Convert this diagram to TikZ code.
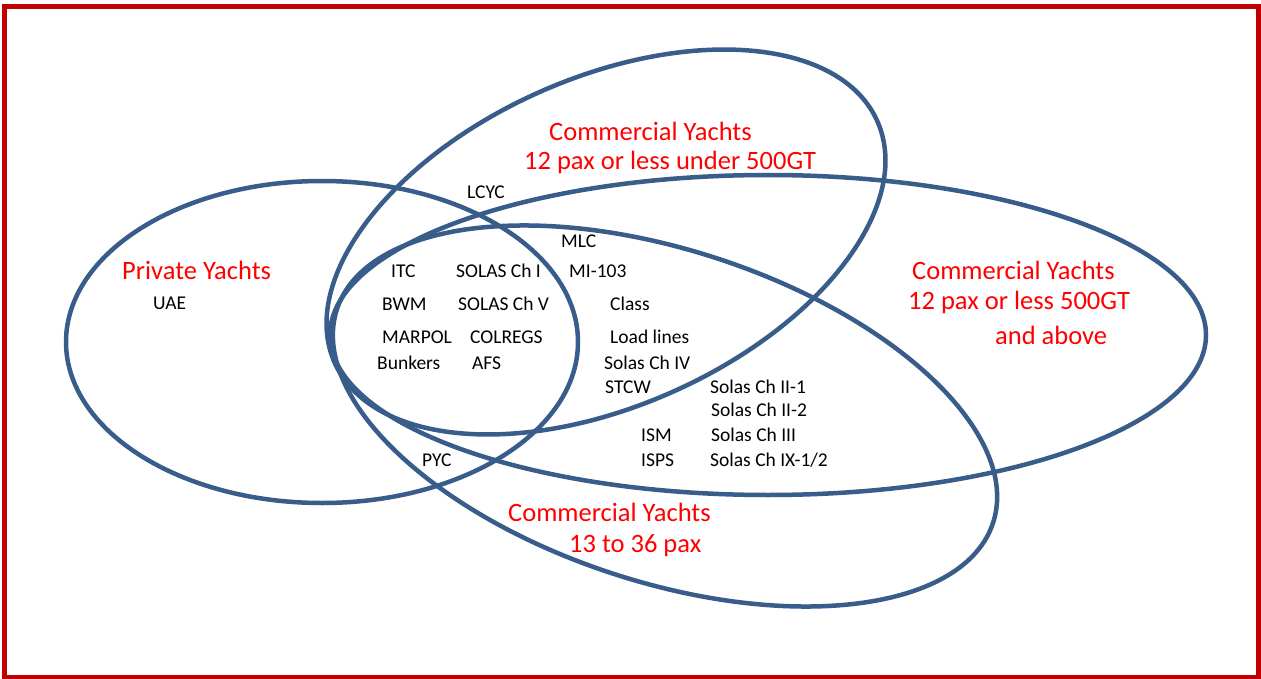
\documentclass[tikz,border=0pt]{standalone}
\usepackage{fontspec}
\setmainfont{Carlito}
\usepackage{xcolor}
\definecolor{frame}{RGB}{192,0,0}
\definecolor{vennblue}{RGB}{56,93,138}
\begin{document}
\begin{tikzpicture}[x=1pt,y=-1pt,
    venn/.style={draw=vennblue,line width=4.5pt},
    grp/.style={text=red,font=\fontsize{26.5}{28}\selectfont,inner sep=0pt,anchor=west},
    reg/.style={text=black,font=\fontsize{19.5}{21}\selectfont,inner sep=0pt,anchor=west}]
  \useasboundingbox (0,0) rectangle (1261,679);
  \fill[white] (0,0) rectangle (1261,679);
  \draw[frame,line width=5pt] (4.5,6.5) rectangle (1258.5,677);
  \draw[venn] (322,342) ellipse [x radius=256, y radius=161];
  \draw[venn,rotate around={24:(606,242)}] (606,242) ellipse [x radius=297, y radius=164];
  \draw[venn] (768,335) ellipse [x radius=438, y radius=160];
  \draw[venn,rotate around={-18:(665,416)}] (665,416) ellipse [x radius=345, y radius=166];
  \node[grp] (privA) at (122,270) {Private Yachts};
  \node[reg] (uae) at (153,303) {UAE};
  \node[grp] (smallA) at (549,131) {Commercial Yachts};
  \node[grp] (smallB) at (524,162) {12 pax or less under 500GT};
  \node[grp] (largeA) at (912,270) {Commercial Yachts};
  \node[grp] (largeB) at (908,302) {12 pax or less 500GT};
  \node[grp] (largeC) at (995,335) {and above};
  \node[grp] (paxA) at (508,512) {Commercial Yachts};
  \node[grp] (paxB) at (569,546) {13 to 36 pax};
  \node[reg] (lcyc) at (467,192) {LCYC};
  \node[reg] (mlc) at (561,241) {MLC};
  \node[reg] (itc) at (391,271) {ITC};
  \node[reg] (solasI) at (456,271) {SOLAS Ch I};
  \node[reg] (mi) at (569,271) {MI-103};
  \node[reg] (bwm) at (382,304) {BWM};
  \node[reg] (solasV) at (458,304) {SOLAS Ch V};
  \node[reg] (class) at (610,304) {Class};
  \node[reg] (marpol) at (382,337) {MARPOL};
  \node[reg] (colregs) at (470,337) {COLREGS};
  \node[reg] (loadl) at (610,337) {Load lines};
  \node[reg] (bunkers) at (377,363) {Bunkers};
  \node[reg] (afs) at (472,363) {AFS};
  \node[reg] (solasIV) at (604,363) {Solas Ch IV};
  \node[reg] (stcw) at (605,387) {STCW};
  \node[reg] (solasIIa) at (710,387) {Solas Ch II-1};
  \node[reg] (solasIIb) at (711,410) {Solas Ch II-2};
  \node[reg] (ism) at (641,435) {ISM};
  \node[reg] (solasIII) at (711,435) {Solas Ch III};
  \node[reg] (isps) at (641,460) {ISPS};
  \node[reg] (solasIX) at (710,460) {Solas Ch IX-1/2};
  \node[reg] (pyc) at (422,460) {PYC};
\end{tikzpicture}
\end{document}
